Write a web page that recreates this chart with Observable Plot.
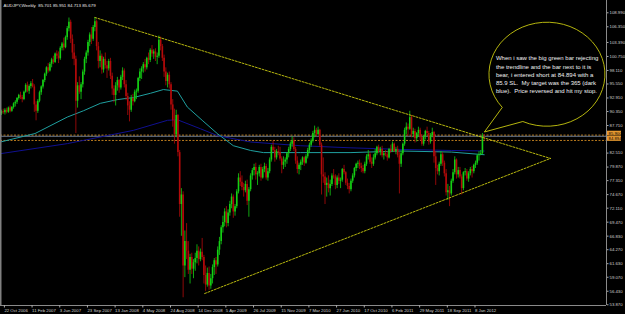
<!DOCTYPE html>
<html><head><meta charset="utf-8">
<script src="https://cdn.jsdelivr.net/npm/d3@7"></script>
<script src="https://cdn.jsdelivr.net/npm/@observablehq/plot@0.6"></script>
<style>
html,body{margin:0;padding:0;background:#000;}
#chart{width:625px;height:314px;overflow:hidden;}
</style></head><body><div id="chart"></div>
<script>
// ---- data (AUDJPY weekly) ----
const headerText = "AUDJPY,Weekly  85.701 85.951 84.713 85.679";
const firstWeek = "2006-10-15";
const opens = [89.9,90.3,90.1,90.6,90.2,91.0,90.4,91.1,91.8,92.1,92.8,93.4,93.0,92.6,94.0,95.3,94.2,95.1,95.6,95.0,
91.6,90.4,92.3,93.9,95.0,96.2,97.4,98.6,98.0,99.3,100.1,99.6,101.2,100.8,100.3,102.3,103.1,102.4,104.3,106.0,
107.2,104.0,101.4,100.2,92.3,95.2,94.0,95.4,97.8,100.2,101.4,103.4,104.8,104.0,106.2,107.3,102.6,99.8,100.8,98.2,
100.2,99.0,98.4,99.8,97.0,94.6,93.4,95.2,96.2,94.8,96.8,98.0,95.4,93.2,91.4,90.6,92.8,92.2,94.0,94.2,
96.6,97.8,98.4,99.2,98.6,100.4,100.0,101.9,101.2,101.6,100.6,100.8,103.8,102.6,100.4,97.8,96.0,97.2,95.4,91.6,
88.6,86.0,89.6,82.6,72.8,74.6,61.2,65.8,64.0,60.4,62.8,60.6,61.8,62.6,64.0,62.4,63.8,62.8,59.4,57.6,
59.8,57.4,58.8,60.9,62.2,61.4,64.2,65.8,68.4,69.4,71.4,69.2,71.2,72.8,74.2,71.4,72.4,75.2,77.8,77.0,
76.0,75.4,76.6,73.4,75.6,78.2,79.2,79.8,78.4,78.6,79.8,77.8,79.4,80.0,77.8,79.0,81.2,83.6,83.0,81.6,
82.8,82.6,81.4,80.2,80.8,81.2,82.4,83.2,84.2,84.8,83.2,81.0,79.4,80.2,80.8,81.6,80.6,81.8,83.0,84.0,
84.8,86.2,86.8,86.0,86.8,84.0,78.4,78.0,76.4,76.8,75.8,76.6,78.2,78.0,76.4,77.8,77.2,77.4,79.4,78.8,
76.8,76.2,75.6,77.2,78.2,79.6,80.4,80.6,80.0,79.6,79.0,80.4,81.8,82.2,80.8,80.4,81.6,82.4,83.6,82.8,
83.2,82.0,82.4,82.2,81.6,83.2,82.8,84.2,82.8,83.2,82.0,80.4,82.4,84.2,86.8,87.4,87.0,89.2,86.0,86.6,
85.2,86.2,86.8,85.4,84.2,85.6,86.6,86.2,84.6,85.8,86.4,81.8,79.6,79.0,80.4,82.2,80.6,78.6,75.0,75.4,
74.8,77.2,78.8,81.2,78.4,79.2,78.0,75.8,78.8,79.0,77.6,78.6,79.4,79.0,80.2,80.6,82.0,82.2,82.4,85.701];
const highs = [90.6,90.8,90.9,91.0,91.2,91.4,91.3,92.0,92.4,93.0,93.6,94.0,93.4,94.2,95.6,95.9,95.4,96.0,96.4,95.4,
92.2,92.6,94.2,95.2,96.4,97.6,98.8,99.4,99.6,100.4,100.8,101.4,101.8,101.6,102.6,103.4,104.2,104.6,106.4,108.0,
107.6,104.8,103.0,100.8,95.8,96.9,95.8,98.2,100.6,101.8,103.8,105.2,106.2,106.6,108.1,107.6,103.4,101.8,101.2,100.6,
101.4,99.8,100.2,100.4,97.6,95.2,95.8,96.8,96.4,97.2,98.6,98.4,96.2,93.8,92.2,93.4,93.6,94.4,94.6,96.8,
98.4,98.8,99.6,100.2,100.6,101.4,102.2,102.8,102.0,102.2,101.4,104.6,104.4,103.0,101.0,98.6,97.6,97.8,95.8,92.6,
90.8,90.6,89.8,83.0,75.8,75.2,67.8,69.2,65.8,63.4,63.6,62.4,63.6,65.2,64.8,64.4,66.4,63.2,61.2,60.8,
61.0,59.6,61.4,62.6,62.8,64.8,66.6,68.8,70.6,72.0,72.4,71.8,73.4,74.8,74.6,72.8,75.6,78.6,79.0,78.2,
76.8,77.2,77.4,76.0,78.6,79.6,80.4,80.6,79.0,80.2,80.4,79.8,80.6,80.4,79.6,81.6,84.0,84.8,83.6,83.2,
83.8,83.6,81.8,81.8,81.6,82.6,83.6,84.6,85.6,85.4,83.6,81.8,80.6,81.2,81.8,81.8,82.2,83.4,84.4,85.2,
86.6,87.6,87.2,87.4,87.0,84.4,81.6,78.8,77.8,78.2,77.4,78.6,79.4,78.4,78.2,78.6,77.8,79.6,80.2,79.0,
77.6,76.8,77.6,78.6,79.8,80.6,81.0,81.2,80.6,80.2,80.8,82.2,83.0,82.6,81.6,82.2,83.2,83.8,84.0,83.6,
83.8,82.8,83.0,82.8,83.4,84.0,84.6,84.4,83.6,83.8,82.6,82.8,84.4,87.2,88.2,88.0,90.4,89.6,87.2,87.0,
86.4,87.4,87.2,86.0,85.8,86.8,87.4,86.6,86.2,87.2,86.6,82.8,80.2,80.8,82.8,82.6,81.0,79.4,76.6,76.2,
77.6,79.4,81.8,81.4,79.8,79.8,78.4,79.0,79.6,79.4,79.0,79.8,80.0,80.4,81.0,82.2,82.8,83.0,86.2,85.951];
const lows = [89.6,89.8,89.7,89.9,90.0,90.1,90.2,90.8,91.2,91.7,92.5,92.6,92.0,92.4,93.8,93.9,93.6,94.6,94.8,90.2,
88.6,90.0,92.0,93.4,94.6,95.8,97.0,97.6,97.8,98.6,99.2,99.4,100.2,99.4,100.0,101.8,101.8,102.2,103.8,105.4,
103.2,100.2,99.0,86.2,91.0,93.6,92.6,94.8,97.2,99.4,100.8,102.6,103.0,103.6,105.4,101.8,98.4,98.6,97.4,97.6,
98.4,96.6,98.0,96.4,93.4,92.0,91.4,94.2,93.8,94.4,96.2,94.8,92.4,89.6,88.4,90.2,91.4,92.0,92.6,93.8,
96.0,96.4,97.6,97.8,98.2,99.2,99.6,100.6,100.2,99.8,99.2,100.4,101.8,99.8,96.8,95.2,94.8,94.6,90.6,87.4,
84.2,85.4,81.8,70.4,66.8,55.2,59.0,62.4,59.6,57.8,59.6,58.8,60.2,61.6,61.2,62.0,62.2,57.8,56.4,57.2,
56.6,56.8,57.8,59.4,59.6,61.0,63.2,65.2,67.4,68.6,68.4,68.6,70.6,72.0,70.2,70.6,72.0,74.8,76.2,75.4,
74.2,75.0,72.6,70.4,75.2,77.4,78.2,77.4,76.4,78.0,77.2,77.6,78.8,77.4,77.2,78.6,80.8,82.6,80.8,81.2,
82.0,81.0,78.6,79.4,79.8,80.4,81.6,82.8,83.6,82.8,80.4,78.6,78.4,79.2,80.2,80.0,80.4,81.4,82.4,83.6,
84.4,85.4,85.6,85.8,83.6,74.6,76.8,72.8,74.2,75.0,74.4,76.2,77.6,75.6,75.8,76.6,75.8,77.0,78.4,76.4,
75.6,74.8,75.2,76.8,77.8,79.0,79.6,79.4,78.8,78.6,78.6,80.0,81.2,80.4,79.6,80.0,81.2,82.0,82.4,82.0,
81.6,81.2,81.8,81.0,81.4,82.4,82.6,82.6,82.2,81.6,74.8,79.8,82.0,83.8,86.0,85.6,86.8,85.4,85.4,84.4,
84.6,85.6,84.8,83.8,83.8,85.0,85.6,84.0,84.2,85.4,80.6,76.4,78.4,78.2,80.0,80.0,78.0,74.4,73.6,72.4,
74.4,76.8,78.4,77.6,77.8,77.6,74.6,75.4,78.2,77.2,77.0,78.2,77.8,78.6,79.6,80.2,81.0,82.0,82.2,84.713];
const closes = [90.3,90.1,90.6,90.2,91.0,90.4,91.1,91.8,92.1,92.8,93.4,93.0,92.6,94.0,95.3,94.2,95.1,95.6,95.0,91.6,
90.4,92.3,93.9,95.0,96.2,97.4,98.6,98.0,99.3,100.1,99.6,101.2,100.8,100.3,102.3,103.1,102.4,104.3,106.0,107.2,
104.0,101.4,100.2,92.3,95.2,94.0,95.4,97.8,100.2,101.4,103.4,104.8,104.0,106.2,107.3,102.6,99.8,100.8,98.2,100.2,
99.0,98.4,99.8,97.0,94.6,93.4,95.2,96.2,94.8,96.8,98.0,95.4,93.2,91.4,90.6,92.8,92.2,94.0,94.2,96.6,
97.8,98.4,99.2,98.6,100.4,100.0,101.9,101.2,101.6,100.6,100.8,103.8,102.6,100.4,97.8,96.0,97.2,95.4,91.6,88.6,
86.0,89.6,82.6,72.8,74.6,61.2,65.8,64.0,60.4,62.8,60.6,61.8,62.6,64.0,62.4,63.8,62.8,59.4,57.6,59.8,
57.4,58.8,60.9,62.2,61.4,64.2,65.8,68.4,69.4,71.4,69.2,71.2,72.8,74.2,71.4,72.4,75.2,77.8,77.0,76.0,
75.4,76.6,73.4,75.6,78.2,79.2,79.8,78.4,78.6,79.8,77.8,79.4,80.0,77.8,79.0,81.2,83.6,83.0,81.6,82.8,
82.6,81.4,80.2,80.8,81.2,82.4,83.2,84.2,84.8,83.2,81.0,79.4,80.2,80.8,81.6,80.6,81.8,83.0,84.0,84.8,
86.2,86.8,86.0,86.8,84.0,78.4,78.0,76.4,76.8,75.8,76.6,78.2,78.0,76.4,77.8,77.2,77.4,79.4,78.8,76.8,
76.2,75.6,77.2,78.2,79.6,80.4,80.6,80.0,79.6,79.0,80.4,81.8,82.2,80.8,80.4,81.6,82.4,83.6,82.8,83.2,
82.0,82.4,82.2,81.6,83.2,82.8,84.2,82.8,83.2,82.0,80.4,82.4,84.2,86.8,87.4,87.0,89.2,86.0,86.6,85.2,
86.2,86.8,85.4,84.2,85.6,86.6,86.2,84.6,85.8,86.4,81.8,79.6,79.0,80.4,82.2,80.6,78.6,75.0,75.4,74.8,
77.2,78.8,81.2,78.4,79.2,78.0,75.8,78.8,79.0,77.6,78.6,79.4,79.0,80.2,80.6,82.0,82.2,82.4,85.7,85.679];

// moving averages
const tealDates = ["2006-10-11","2007-02-28","2007-07-08","2007-09-12","2007-11-19","2008-01-27","2008-04-01","2008-06-09","2008-07-31","2008-09-26","2008-11-05","2009-01-04","2009-03-06","2009-05-10","2009-07-19","2009-09-09","2010-02-05","2010-08-29","2011-03-20","2011-10-09","2012-02-19"];
const tealValues = [84.6,86.2,89.3,90.5,91.9,92.6,93.0,93.8,94.5,94.2,91.2,88.7,86.2,83.9,83.0,82.6,82.6,82.6,82.9,82.7,82.2];
const blueDates = ["2006-10-11","2007-07-09","2008-04-01","2008-08-17","2008-09-26","2008-12-28","2009-03-07","2009-07-19","2010-02-05","2010-08-29","2011-03-20","2011-10-09","2012-02-19"];
const blueValues = [82.4,84.3,86.8,88.7,88.8,87.1,85.8,84.6,83.9,83.5,83.2,83.0,82.9];

// trend lines
const upperTrendDates = ["2007-10-28","2012-11-13"];
const upperTrendPrices = [108.1,81.5];
const lowerTrendDates = ["2009-01-14","2012-11-13"];
const lowerTrendPrices = [56.0,81.5];

// levels
const stopLoss = 85.9, entry = 84.894, bidPrice = 85.679;

// axis ticks
const priceTicks = [108.990,106.350,103.390,100.750,98.110,95.550,92.910,90.350,87.710,82.510,79.870,77.310,74.670,72.110,69.470,66.830,64.270,61.630,59.070,56.430,53.870];
const dateTicks = ["2006-10-22","2007-02-11","2007-06-03","2007-09-23","2008-01-13","2008-05-04","2008-08-24","2008-12-14","2009-04-05","2009-07-26","2009-11-15","2010-03-07","2010-06-27","2010-10-17","2011-02-06","2011-05-29","2011-09-18","2012-01-08"];

// callout
const calloutLines = [
  "When i saw the big green bar rejecting",
  "the trendline and the bar next to it is",
  "bear, i entered short at 84.894 with a",
  "85.9 SL.  My target was the 365 (dark",
  "blue).  Price reversed and hit my stop."
];
const calloutDate = "2012-11-01", calloutPrice = 97.3;
const calloutTipDate = "2012-02-22", calloutTipPrice = 86.4;

// ---- build ----
const D = s => new Date(s + "T00:00:00Z");
const day = 864e5;
const t0 = D(firstWeek);
const bars = opens.map((o, i) => ({
  date: new Date(+t0 + i * 7 * day), open: o, high: highs[i], low: lows[i], close: closes[i]
}));
const ref = D("2006-10-22");
const xDomain = [new Date(+ref - 10.9 * day), new Date(+ref + 348.7 * 7 * day)];
const yDomain = [53.74, 111.31];
const bull = "#14d014", bear = "#b40a0a";
const col = d => d.close >= d.open ? bull : bear;
const teal = tealDates.map((d, i) => ({date: D(d), v: tealValues[i]}));
const blue = blueDates.map((d, i) => ({date: D(d), v: blueValues[i]}));
const up = upperTrendDates.map((d, i) => ({date: D(d), v: upperTrendPrices[i]}));
const lo = lowerTrendDates.map((d, i) => ({date: D(d), v: lowerTrendPrices[i]}));
const FONT = "Liberation Sans, Arial, sans-serif";

const chart = Plot.plot({
  width: 625, height: 314,
  marginLeft: 0, marginRight: 19, marginTop: 0, marginBottom: 9,
  style: {background: "#000", color: "#d8d8d8", fontSize: "4.3px", fontFamily: FONT},
  x: {type: "utc", domain: xDomain, axis: null},
  y: {domain: yDomain, axis: null},
  color: {type: "identity"},
  marks: [
    Plot.ruleY([stopLoss, entry], {stroke: "#d08a20", strokeDasharray: "2,1.5", strokeWidth: 0.9}),
    Plot.ruleY([bidPrice], {stroke: "#7a8aa0", strokeWidth: 0.9}),
    Plot.line(blue, {x: "date", y: "v", stroke: "#101090", strokeWidth: 1}),
    Plot.line(teal, {x: "date", y: "v", stroke: "#1fa0a0", strokeWidth: 1}),
    Plot.ruleX(bars, {x: "date", y1: "low", y2: "high", stroke: col, strokeWidth: 0.8}),
    Plot.ruleX(bars, {x: "date", y1: "open", y2: "close", stroke: col, strokeWidth: 1.6}),
    Plot.line(up, {x: "date", y: "v", stroke: "#cccc10", strokeDasharray: "2,1.5", strokeWidth: 0.9}),
    Plot.line(lo, {x: "date", y: "v", stroke: "#cccc10", strokeDasharray: "2,1.5", strokeWidth: 0.9}),
    // frame
    Plot.ruleX([xDomain[0]], {stroke: "#808080", strokeWidth: 2}),
    Plot.ruleX([xDomain[1]], {stroke: "#8a8a8a", strokeWidth: 1}),
    Plot.ruleY([yDomain[0]], {stroke: "#8a8a8a", strokeWidth: 1}),
    Plot.axisY(priceTicks, {anchor: "right", tickSize: 1.5, tickPadding: 1.5, stroke: "#aaa",
      tickFormat: d3.format(".3f"), fill: "#d0d0d0", fontSize: "4.3px", label: null}),
    Plot.axisX(dateTicks.map(D), {anchor: "bottom", tickSize: 2.5, tickPadding: 0.5, stroke: "#aaa",
      tickFormat: d3.utcFormat("%-d %b %Y"), textAnchor: "start", dx: 1.2, fill: "#d0d0d0", fontSize: "4.3px", label: null}),
    Plot.text([headerText], {frameAnchor: "top-left", dx: 3, dy: 3.5, fill: "#e8e8e8", fontSize: "4.4px", textAnchor: "start"}),
    // orange level labels + callout
    (index, {x, y}) => {
      const g = d3.create("svg:g");
      for (const v of [stopLoss, entry]) {
        const yy = y(v) - 1.5;
        g.append("rect").attr("x", 607).attr("y", yy - 2.4).attr("width", 14).attr("height", 4.8).attr("fill", "#e89a30");
        g.append("text").attr("x", 608.5).attr("y", yy).attr("dy", "0.35em").attr("font-size", "4.3px")
          .attr("text-anchor", "start").attr("font-family", FONT).attr("fill", "#000").text(v.toFixed(3));
      }
      const cx = x(D(calloutDate)), cy = y(calloutPrice);
      const rx = 58, ry = 52;
      const tx = x(D(calloutTipDate)), ty = y(calloutTipPrice);
      const a1 = 2.45, a2 = 2.0;
      const p1 = [cx + rx * Math.cos(a1), cy + ry * Math.sin(a1)];
      const p2 = [cx + rx * Math.cos(a2), cy + ry * Math.sin(a2)];
      const path = `M${p1[0]},${p1[1]} A${rx},${ry} 0 1 1 ${p2[0]},${p2[1]} L${tx},${ty} Z`;
      g.append("path").attr("d", path).attr("fill", "none").attr("stroke", "#c8c810").attr("stroke-width", 0.9);
      const t = g.append("text").attr("font-family", FONT).attr("font-size", "6px")
        .attr("text-anchor", "start").attr("fill", "#f0f0f0");
      calloutLines.forEach((s, i) => {
        t.append("tspan").attr("x", cx - 51).attr("y", cy - 14 + i * 8.3).text(s);
      });
      return g.node();
    }
  ]
});
document.getElementById("chart").appendChild(chart);
</script>
</body></html>
